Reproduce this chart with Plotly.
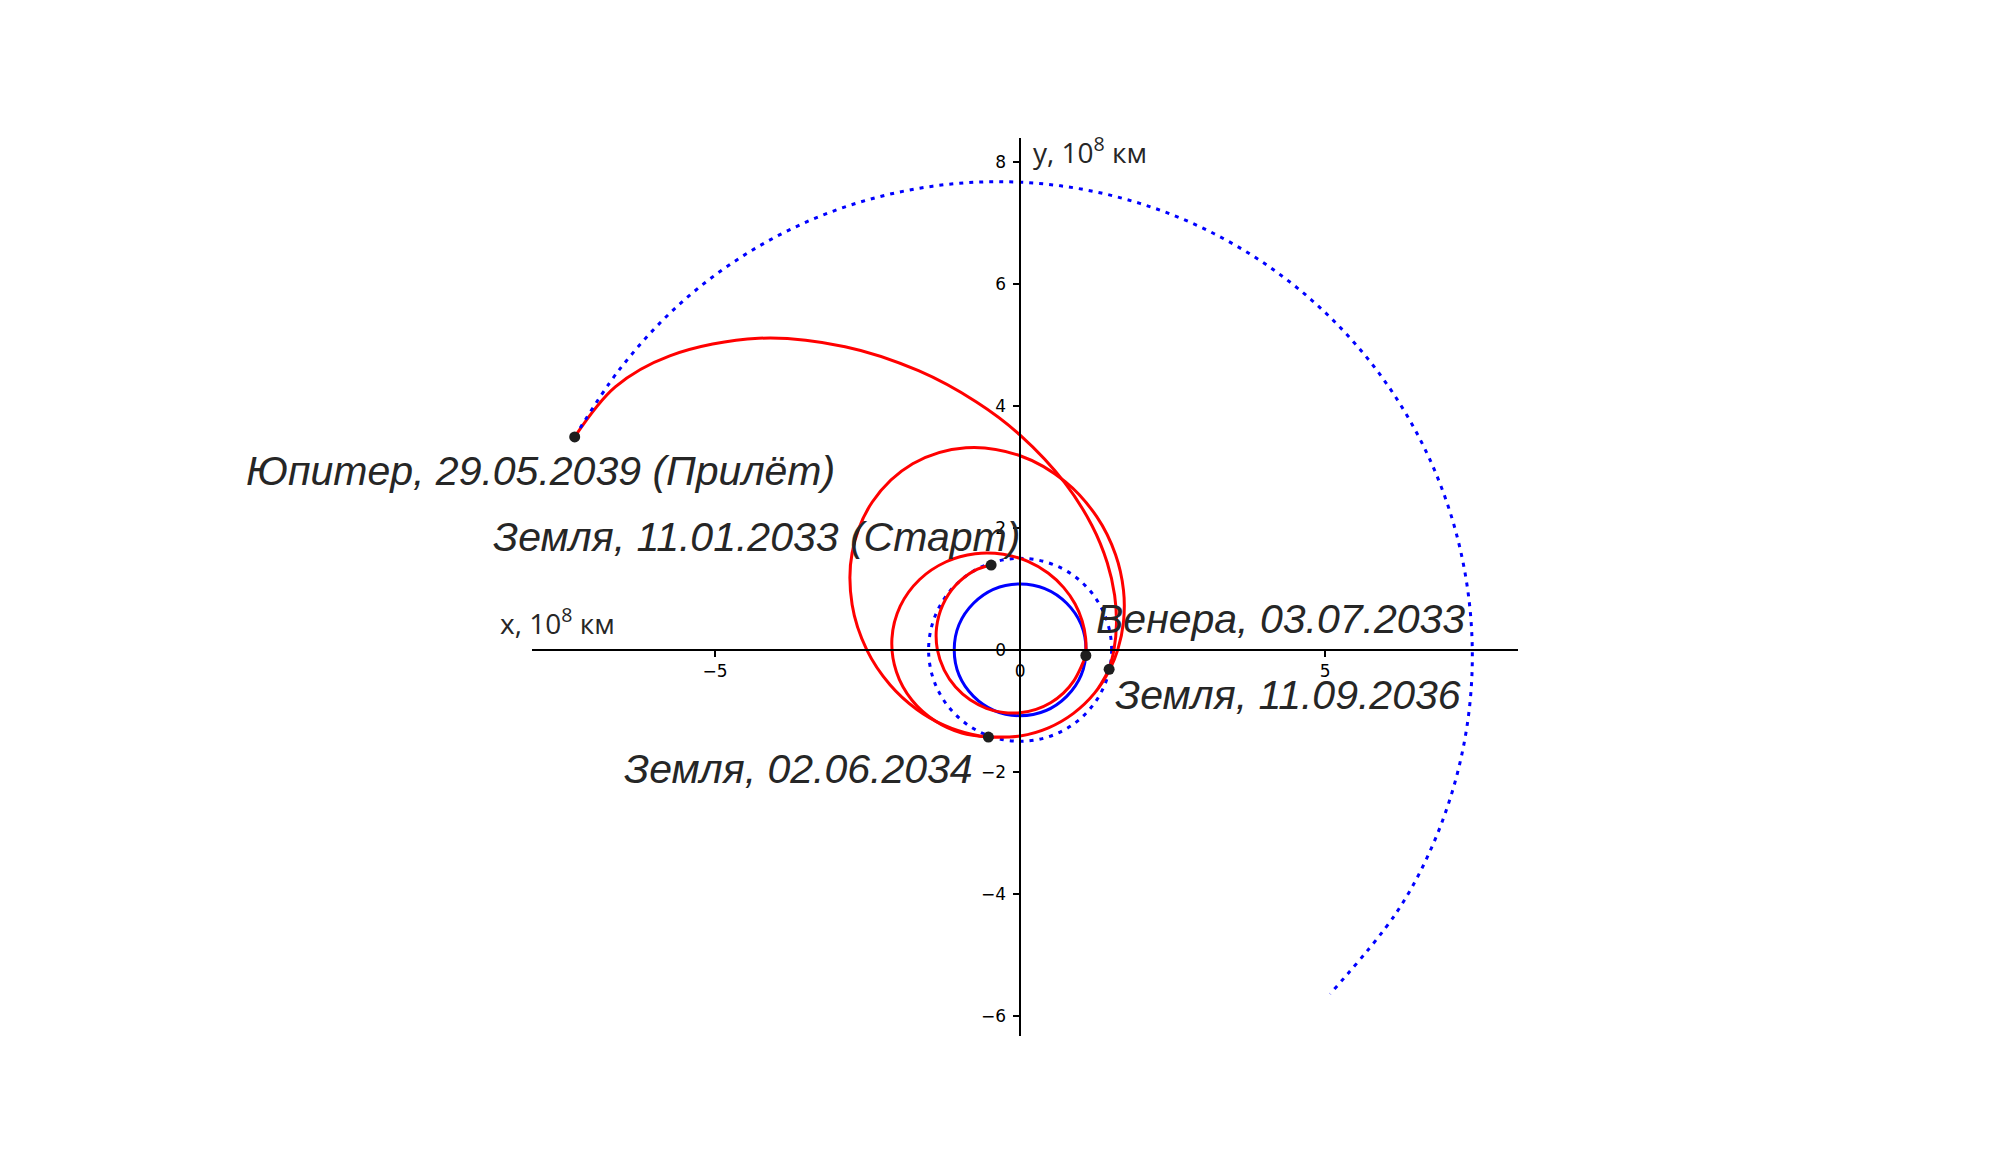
import plotly.graph_objects as go

# orbits of Venus and Earth, 10^8 km
venus_r = 1.08
earth_r = 1.50

# Jupiter orbit arc (dotted)
jupiter_x = [-7.30, -6.565, -5.626, -4.528, -3.309, -2.009, -0.671, 0.665, 1.961, 3.181, 4.291,
             5.265, 6.079, 6.711, 7.147, 7.376, 7.392, 7.191, 6.779, 6.163, 5.08]
jupiter_y = [3.49, 4.597, 5.626, 6.466, 7.096, 7.498, 7.668, 7.606, 7.319, 6.821, 6.129,
             5.265, 4.257, 3.129, 1.915, 0.645, -0.647, -1.927, -3.161, -4.315, -5.64]

# spacecraft trajectory, leg by leg
leg1_x = [-0.475, -0.749, -1.057, -1.269, -1.369, -1.356, -1.244, -1.058, -0.820, -0.553,
          -0.275, 0.0, 0.261, 0.500, 0.709, 0.880, 1.005, 1.077]
leg1_y = [1.39, 1.298, 1.057, 0.733, 0.367, 0.0, -0.333, -0.611, -0.820, -0.958,
          -1.027, -1.031, -0.976, -0.867, -0.709, -0.508, -0.269, -0.093]

leg2_x = [1.077, 1.074, 1.017, 0.899, 0.715, 0.458, 0.127, -0.276, -0.735, -1.212,
          -1.647, -1.965, -2.101, -2.028, -1.772, -1.391, -0.956, -0.52]
leg2_y = [-0.093, 0.189, 0.474, 0.754, 1.020, 1.259, 1.450, 1.566, 1.575, 1.444,
          1.153, 0.715, 0.184, -0.358, -0.826, -1.167, -1.365, -1.43]

leg3_x = [-0.520, 0.0, 0.465, 0.874, 1.223, 1.469, 1.600, 1.694, 1.694, 1.563, 1.258, 0.739,
          0.0, -0.888, -1.761, -2.423, -2.753, -2.753, -2.513, -2.133, -1.692, -1.239, -0.799,
          -0.520, 0.0, 0.465, 0.874, 1.223, 1.459]
leg3_y = [-1.428, -1.411, -1.278, -1.041, -0.706, -0.323, 0.0, 0.454, 0.978, 1.563, 2.179, 2.757,
          3.182, 3.313, 3.050, 2.423, 1.589, 0.738, 0.0, -0.572, -0.977, -1.239, -1.385,
          -1.428, -1.411, -1.278, -1.041, -0.706, -0.32]

leg4_x = [1.459, 1.538, 1.579, 1.549, 1.428, 1.177, 0.733, 0.0, -0.716, -1.665, -2.869,
          -4.285, -5.742, -6.635, -7.30]
leg4_y = [-0.32, 0.0, 0.423, 0.895, 1.428, 2.038, 2.737, 3.520, 4.062, 4.575, 4.969,
          5.107, 4.818, 4.309, 3.49]

# flyby points
event_labels = ['Земля, 11.01.2033 (Старт)', 'Венера, 03.07.2033', 'Земля, 02.06.2034',
                'Земля, 11.09.2036', 'Юпитер, 29.05.2039 (Прилёт)']
event_x = [-0.475, 1.077, -0.52, 1.459, -7.30]
event_y = [1.39, -0.093, -1.43, -0.32, 3.49]

x_ticks = [-5, 0, 5]
y_ticks = [-6, -4, -2, 0, 2, 4, 6, 8]

x_range = [-8.0, 8.16]
y_range = [-6.33, 8.39]

dots = '4px,6px'

fig = go.Figure()

for lx, ly in [(leg1_x, leg1_y), (leg2_x, leg2_y), (leg3_x, leg3_y), (leg4_x, leg4_y)]:
    fig.add_trace(go.Scatter(x=lx, y=ly, mode='lines',
                             line=dict(color='#ff0000', width=3, shape='spline'),
                             hoverinfo='skip'))

fig.add_trace(go.Scatter(x=jupiter_x, y=jupiter_y, mode='lines',
                         line=dict(color='#0000ff', width=3, dash=dots, shape='spline'),
                         hoverinfo='skip'))

fig.add_trace(go.Scatter(x=event_x, y=event_y, mode='markers', text=event_labels,
                         marker=dict(color='#1e1e1e', size=11),
                         hoverinfo='text'))

for r, dash in [(venus_r, 'solid'), (earth_r, dots)]:
    fig.add_shape(type='circle', xref='x', yref='y', x0=-r, y0=-r, x1=r, y1=r,
                  line=dict(color='#0000ff', width=3, dash=dash), layer='below')

# label placement (data coords of the text anchor)
label_pos = [(0.03, 1.85, 'right'), (1.21, 0.50, 'left'), (-0.74, -1.95, 'right'),
             (1.53, -0.74, 'left'), (-3.0, 2.93, 'right')]
for text, (lx, ly, anchor) in zip(event_labels, label_pos):
    fig.add_annotation(x=lx, y=ly, text=text, showarrow=False, xanchor=anchor, yanchor='middle',
                       font=dict(family='Liberation Sans', size=41, color='#262626', style='italic'))

axis_font = dict(family='Open Sans', size=28, color='#262626')
fig.add_annotation(x=-6.61, y=0.47, text='x, 10<sup>8</sup> км', showarrow=False,
                   xanchor='right', yanchor='middle', font=axis_font)
fig.add_annotation(x=0.18, y=8.18, text='y, 10<sup>8</sup> км', showarrow=False,
                   xanchor='left', yanchor='middle', font=axis_font)

common_axis = dict(showgrid=False, zeroline=False, showline=True, linecolor='black', linewidth=1.5,
                   ticks='outside', ticklen=6, tickwidth=1.5, tickcolor='black',
                   tickfont=dict(family='DejaVu Sans', size=17, color='black'), anchor='free')

# the page body has an 8px margin, so the figure is offset by 8px
fig.update_layout(
    width=1984, height=1148,
    margin=dict(l=524, r=474, t=130, b=120),
    showlegend=False,
    plot_bgcolor='white', paper_bgcolor='white',
    xaxis=dict(range=x_range, tickvals=x_ticks,
               ticktext=[str(v).replace('-', '−') for v in x_ticks],
               position=-y_range[0] / (y_range[1] - y_range[0]), **common_axis),
    yaxis=dict(range=y_range, tickvals=y_ticks,
               ticktext=[str(v).replace('-', '−') for v in y_ticks],
               ticklabelstandoff=4,
               position=-x_range[0] / (x_range[1] - x_range[0]), **common_axis),
)

fig.write_html("out.html")
